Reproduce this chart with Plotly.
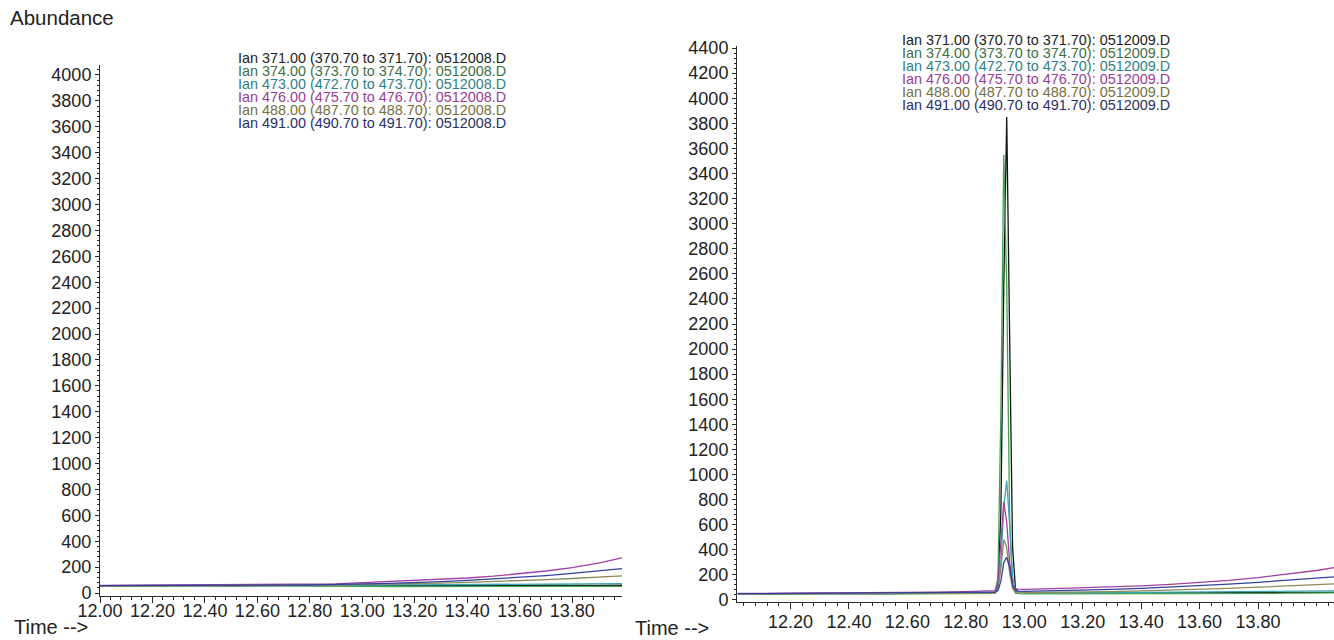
import plotly.graph_objects as go

W, H = 1334, 640

ions = ["371.00", "374.00", "473.00", "476.00", "488.00", "491.00"]
ranges_txt = ["370.70 to 371.70", "373.70 to 374.70", "472.70 to 473.70",
              "475.70 to 476.70", "487.70 to 488.70", "490.70 to 491.70"]
line_colors = ["#141414", "#3fa34d", "#3aa5b5", "#a23fa2", "#8c8a5c", "#34409c"]
text_colors = ["#222222", "#3f6f45", "#2f7f86", "#963c96", "#76703f", "#2a2f66"]

# ---- left panel: 0512008.D ----
file_left = "0512008.D"
t_left = [12.00, 12.10, 12.20, 12.30, 12.40, 12.50, 12.60, 12.70, 12.80, 12.90, 13.00,
          13.10, 13.20, 13.30, 13.40, 13.50, 13.60, 13.70, 13.80, 13.90, 13.99]
left_371 = [56, 58, 55, 57, 59, 56, 58, 60, 57, 59, 62, 58, 57, 59, 56, 58, 57, 60, 58, 59, 60]
left_374 = [52, 53, 51, 52, 54, 52, 53, 55, 53, 54, 52, 50, 51, 50, 52, 51, 50, 52, 51, 53, 52]
left_473 = [55, 56, 54, 55, 57, 56, 57, 58, 57, 60, 64, 62, 63, 64, 65, 66, 67, 68, 70, 72, 73]
left_476 = [58, 59, 58, 60, 61, 62, 63, 65, 67, 70, 80, 88, 95, 104, 116, 130, 148, 170, 196, 230, 272]
left_488 = [54, 55, 54, 55, 56, 55, 57, 58, 58, 60, 66, 68, 72, 76, 82, 88, 95, 103, 112, 122, 132]
left_491 = [57, 57, 56, 58, 59, 58, 60, 61, 62, 64, 70, 75, 80, 88, 97, 108, 120, 135, 152, 170, 188]
left_series = [left_371, left_374, left_473, left_476, left_488, left_491]

# ---- right panel: 0512009.D ----
file_right = "0512009.D"
t_right = [12.02, 12.10, 12.20, 12.30, 12.40, 12.50, 12.60, 12.70, 12.80, 12.86,
           12.90, 12.91, 12.92, 12.93, 12.94, 12.95, 12.96, 12.97, 12.98, 13.00,
           13.10, 13.20, 13.30, 13.40, 13.50, 13.60, 13.70, 13.80, 13.90, 14.00, 14.06]
right_371 = [50, 52, 50, 53, 51, 52, 53, 55, 56, 58, 60, 110, 700, 2500, 3850, 2100, 420, 90, 62, 58,
             57, 58, 56, 57, 58, 57, 59, 58, 60, 59, 60]
right_374 = [47, 48, 47, 49, 48, 47, 49, 48, 50, 50, 52, 180, 1500, 3550, 2500, 650, 110, 55, 50, 49,
             48, 50, 49, 50, 51, 50, 52, 53, 54, 55, 56]
right_473 = [48, 49, 48, 50, 49, 50, 51, 52, 53, 55, 58, 90, 300, 750, 950, 600, 180, 75, 62, 58,
             57, 58, 60, 61, 62, 63, 64, 66, 68, 70, 72]
right_476 = [52, 53, 52, 54, 55, 56, 58, 62, 66, 70, 75, 140, 500, 780, 620, 300, 120, 90, 86, 85,
             90, 96, 103, 112, 124, 138, 156, 178, 205, 235, 258]
right_488 = [46, 47, 46, 48, 47, 48, 49, 50, 52, 53, 55, 80, 250, 480, 420, 220, 90, 65, 60, 58,
             60, 63, 67, 72, 78, 85, 93, 102, 112, 122, 128]
right_491 = [50, 51, 50, 52, 51, 52, 53, 55, 57, 59, 62, 75, 150, 300, 340, 260, 120, 75, 70, 68,
             72, 78, 85, 93, 102, 113, 126, 141, 158, 175, 185]
right_series = [right_371, right_374, right_473, right_476, right_488, right_491]

x_tick_vals = [12.00, 12.20, 12.40, 12.60, 12.80, 13.00, 13.20, 13.40, 13.60, 13.80]
x_tick_text = ["12.00", "12.20", "12.40", "12.60", "12.80", "13.00", "13.20", "13.40", "13.60", "13.80"]

FONT = "Liberation Sans, Arial, Helvetica, sans-serif"
AX = "#2a2a2a"

fig = go.Figure()
for i in range(6):
    fig.add_trace(go.Scatter(x=t_left, y=left_series[i], mode="lines",
                             line=dict(color=line_colors[i], width=1.3),
                             xaxis="x", yaxis="y", showlegend=False, hoverinfo="skip"))
for i in range(6):
    fig.add_trace(go.Scatter(x=t_right, y=right_series[i], mode="lines",
                             line=dict(color=line_colors[i], width=1.3),
                             xaxis="x2", yaxis="y2", showlegend=False, hoverinfo="skip"))

def px_x(p):
    return p / W

def px_y(p):
    return 1 - p / H

def xaxis_style(standoff):
    return dict(showline=True, linecolor=AX, linewidth=1, ticks="outside", ticklen=6,
                tickcolor=AX, tickfont=dict(family=FONT, size=18, color="#222"),
                showgrid=False, zeroline=False, tickangle=0, automargin=False,
                ticklabelstandoff=standoff,
                tickvals=x_tick_vals, ticktext=x_tick_text,
                minor=dict(dtick=0.04, tick0=12.0, ticks="outside", ticklen=3, tickcolor=AX))

ycommon = dict(showline=True, linecolor=AX, linewidth=1, ticks="outside", ticklen=4,
               tickcolor=AX, tickfont=dict(family=FONT, size=18, color="#222"),
               showgrid=False, zeroline=False, dtick=200, tick0=0, automargin=False,
               minor=dict(dtick=40, ticks="outside", ticklen=2, tickcolor=AX))

fig.update_layout(
    width=W, height=H, margin=dict(l=0, r=0, t=0, b=0, pad=0), autosize=False,
    paper_bgcolor="white", plot_bgcolor="white",
    xaxis=dict(domain=[px_x(100), px_x(622)], range=[12.0, 13.99], anchor="y", **xaxis_style(-8)),
    yaxis=dict(domain=[px_y(596), px_y(65)], range=[-23, 4077], anchor="x", **ycommon),
    xaxis2=dict(domain=[px_x(737), 1.0], range=[12.017, 14.06], anchor="y2", **xaxis_style(-3)),
    yaxis2=dict(domain=[px_y(602), px_y(46)], range=[-16, 4416], anchor="x2", **ycommon),
)

ann = []
ann.append(dict(text="Abundance", x=px_x(8), y=px_y(17), xref="paper", yref="paper",
                xanchor="left", yanchor="middle", showarrow=False,
                font=dict(family=FONT, size=20.5, color="#222")))
ann.append(dict(text="Time -->", x=px_x(12), y=px_y(627), xref="paper", yref="paper",
                xanchor="left", yanchor="middle", showarrow=False,
                font=dict(family=FONT, size=20, color="#222")))
ann.append(dict(text="Time -->", x=px_x(633), y=px_y(628), xref="paper", yref="paper",
                xanchor="left", yanchor="middle", showarrow=False,
                font=dict(family=FONT, size=20, color="#222")))

left_rows = [58, 71, 84, 97, 110, 123]
right_rows = [40, 53, 66, 79, 92, 105]
for i in range(6):
    ann.append(dict(text=f"Ian {ions[i]} ({ranges_txt[i]}): {file_left}",
                    x=px_x(236), y=px_y(left_rows[i]), xref="paper", yref="paper",
                    xanchor="left", yanchor="middle", showarrow=False,
                    font=dict(family=FONT, size=14.4, color=text_colors[i])))
    ann.append(dict(text=f"Ian {ions[i]} ({ranges_txt[i]}): {file_right}",
                    x=px_x(900), y=px_y(right_rows[i]), xref="paper", yref="paper",
                    xanchor="left", yanchor="middle", showarrow=False,
                    font=dict(family=FONT, size=14.4, color=text_colors[i])))
fig.update_layout(annotations=ann)

fig.write_html("out.html")
